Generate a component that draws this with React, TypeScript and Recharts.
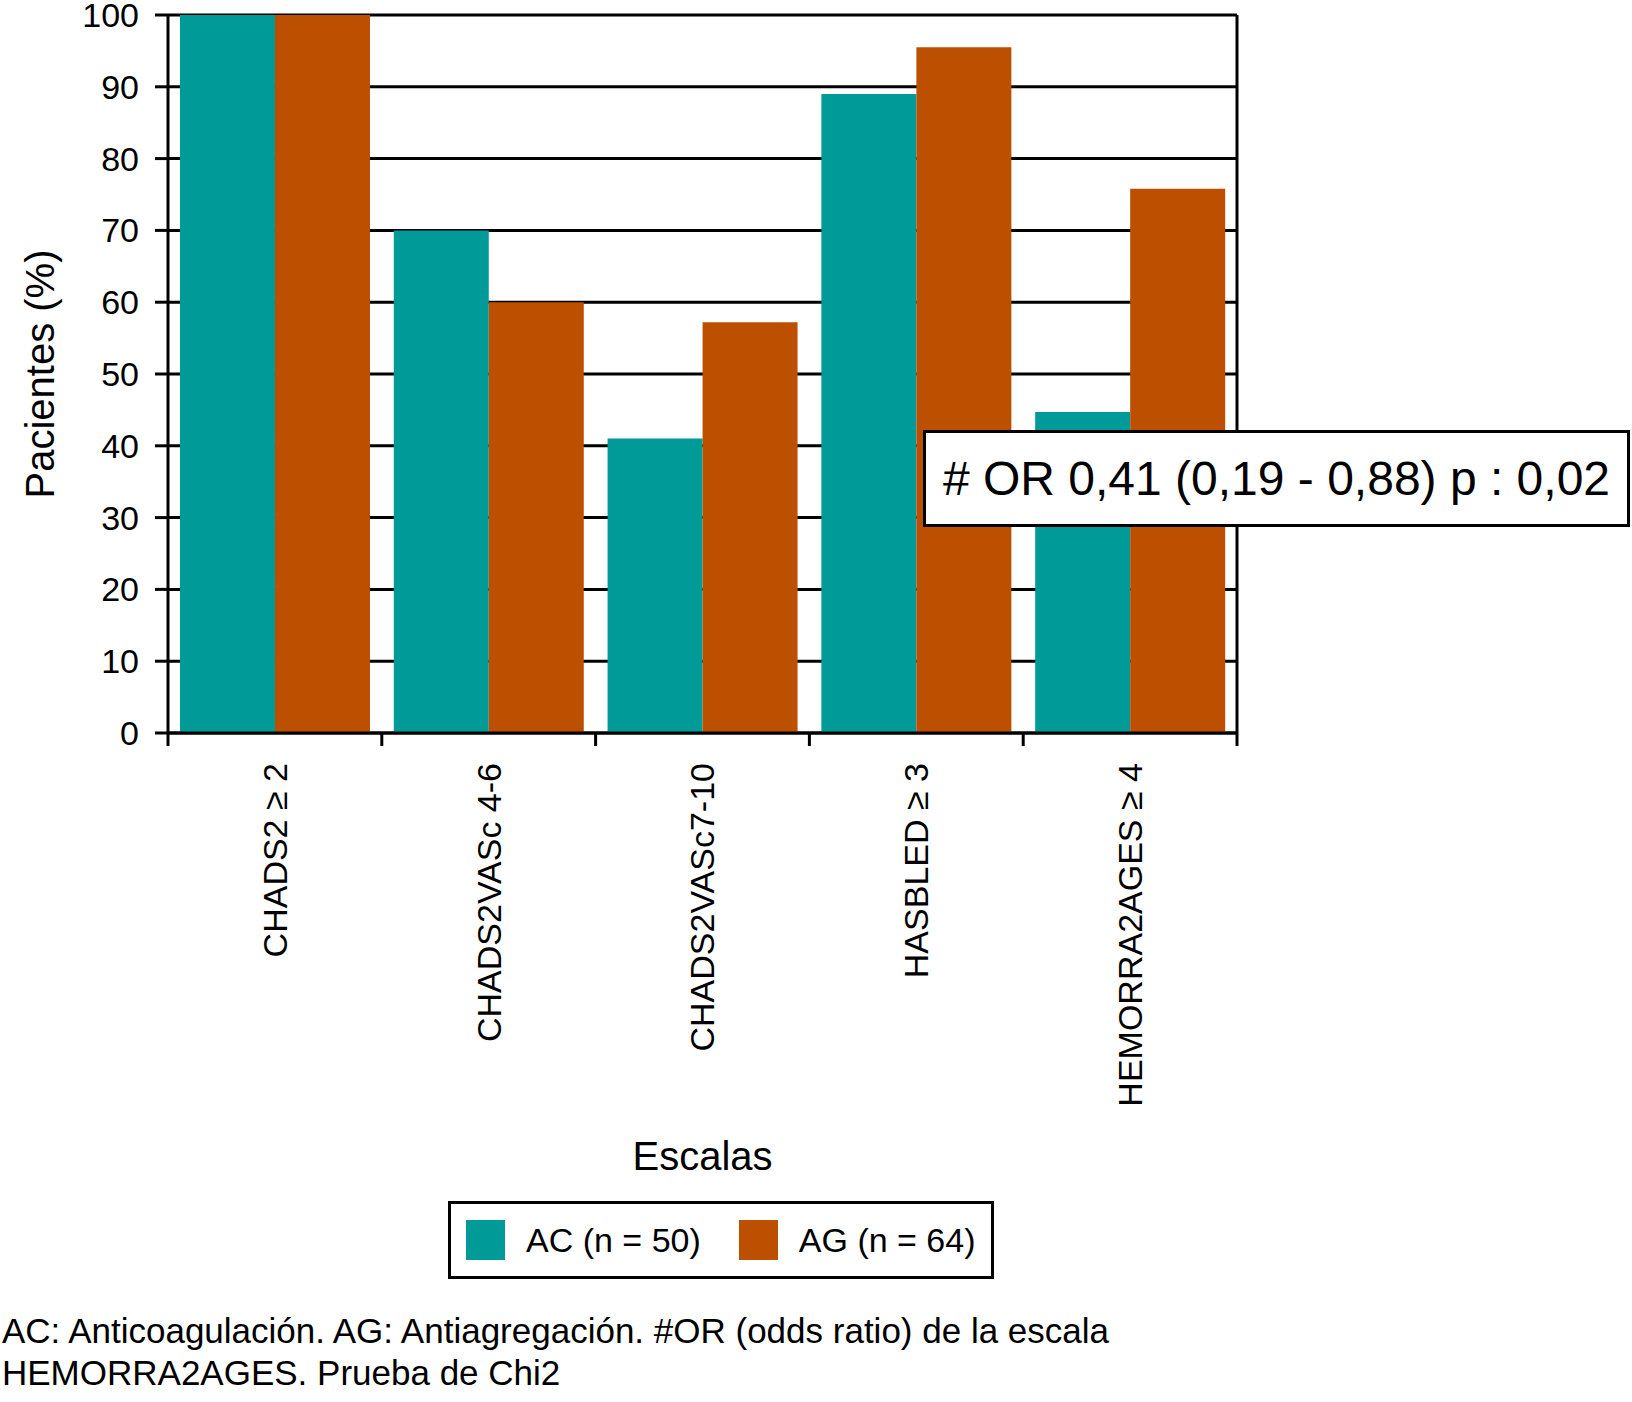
import { BarChart, Bar, XAxis, YAxis, CartesianGrid, Legend } from 'recharts'

const categories = ['CHADS2 ≥ 2', 'CHADS2VASc 4-6', 'CHADS2VASc7-10', 'HASBLED ≥ 3', 'HEMORRA2AGES ≥ 4']
const acValues = [100, 70, 41, 89, 44.7]
const agValues = [100, 60, 57.2, 95.5, 75.8]
const yTicks = [0, 10, 20, 30, 40, 50, 60, 70, 80, 90, 100]

const AC_COLOR = '#009a98'
const AG_COLOR = '#bd4f00'
const FONT = '"Liberation Sans", Arial, Helvetica, sans-serif'

const data = categories.map((name, i) => ({ name, ac: acValues[i], ag: agValues[i] }))

function XTick(props: any) {
  const { x, y, payload, index, visibleTicksCount } = props
  const half = payload.offset ?? 0
  const last = index === visibleTicksCount - 1
  return (
    <g>
      <line x1={x - half} y1={y} x2={x - half} y2={y + 13} stroke="#000" strokeWidth={3} />
      {last && <line x1={x + half} y1={y} x2={x + half} y2={y + 13} stroke="#000" strokeWidth={3} />}
      <text
        x={x}
        y={y + 30}
        transform={`rotate(-90 ${x} ${y + 30})`}
        textAnchor="end"
        dy="0.35em"
        fontSize={34}
        fontFamily={FONT}
        fill="#000"
      >
        {payload.value}
      </text>
    </g>
  )
}

function LegendBox() {
  const items = [
    { label: 'AC (n = 50)', color: AC_COLOR },
    { label: 'AG (n = 64)', color: AG_COLOR },
  ]
  return (
    <div
      style={{
        border: '3px solid #000',
        width: 546,
        height: 78,
        display: 'flex',
        alignItems: 'center',
        paddingLeft: 15,
        boxSizing: 'border-box',
        fontFamily: FONT,
        fontSize: 34,
        background: '#fff',
      }}
    >
      {items.map((it, i) => (
        <div key={it.label} style={{ display: 'flex', alignItems: 'center', marginRight: i === 0 ? 38 : 0 }}>
          <span style={{ display: 'inline-block', width: 39, height: 40, background: it.color, marginRight: 21 }} />
          <span>{it.label}</span>
        </div>
      ))}
    </div>
  )
}

export default function App() {
  return (
    <div style={{ position: 'absolute', left: 0, top: 0, width: 1632, height: 1402, background: '#fff', fontFamily: FONT }}>
      <BarChart
        width={1632}
        height={1402}
        data={data}
        margin={{ top: 15, right: 393, left: 0, bottom: 222 }}
        barCategoryGap="5.6%"
        barGap={0}
      >
        <CartesianGrid yAxisId="left" vertical={false} stroke="#000" strokeWidth={3} />
        <XAxis
          dataKey="name"
          height={447}
          interval={0}
          tickLine={false}
          tickSize={0}
          tickMargin={0}
          axisLine={{ stroke: '#000', strokeWidth: 3 }}
          tick={<XTick />}
          label={{ value: 'Escalas', position: 'insideBottom', offset: 10, fontSize: 40, fontFamily: FONT, fill: '#000' }}
        />
        <YAxis
          yAxisId="left"
          width={168}
          domain={[0, 100]}
          ticks={yTicks}
          interval={0}
          tickSize={13}
          tickMargin={16}
          axisLine={{ stroke: '#000', strokeWidth: 3 }}
          tickLine={{ stroke: '#000', strokeWidth: 3 }}
          tick={{ fontSize: 34, fontFamily: FONT, fill: '#000' }}
          label={{
            value: 'Pacientes (%)',
            angle: -90,
            position: 'insideLeft',
            offset: 40,
            textAnchor: 'middle',
            fontSize: 40,
            fontFamily: FONT,
            fill: '#000',
          }}
        />
        <YAxis
          yAxisId="right"
          orientation="right"
          width={2}
          domain={[0, 100]}
          tick={false}
          tickLine={false}
          axisLine={{ stroke: '#000', strokeWidth: 3 }}
        />
        <Legend
          layout="horizontal"
          verticalAlign="middle"
          content={<LegendBox />}
          wrapperStyle={{ left: 448, top: 1201, width: 546, position: 'absolute' }}
        />
        <Bar yAxisId="left" dataKey="ac" name="AC (n = 50)" fill={AC_COLOR} isAnimationActive={false} />
        <Bar yAxisId="left" dataKey="ag" name="AG (n = 64)" fill={AG_COLOR} isAnimationActive={false} />
      </BarChart>

      <div
        style={{
          position: 'absolute',
          left: 923,
          top: 430,
          width: 707,
          height: 97,
          border: '3px solid #000',
          boxSizing: 'border-box',
          background: '#fff',
          display: 'flex',
          alignItems: 'center',
          justifyContent: 'center',
          fontSize: 48,
          fontFamily: FONT,
        }}
      >
        # OR 0,41 (0,19 - 0,88) p : 0,02
      </div>

      <div
        style={{
          position: 'absolute',
          left: 2,
          top: 1310,
          fontSize: 35,
          lineHeight: '42px',
          fontFamily: FONT,
          color: '#000',
        }}
      >
        AC: Anticoagulación. AG: Antiagregación. #OR (odds ratio) de la escala
        <br />
        HEMORRA2AGES. Prueba de Chi2
      </div>
    </div>
  )
}
